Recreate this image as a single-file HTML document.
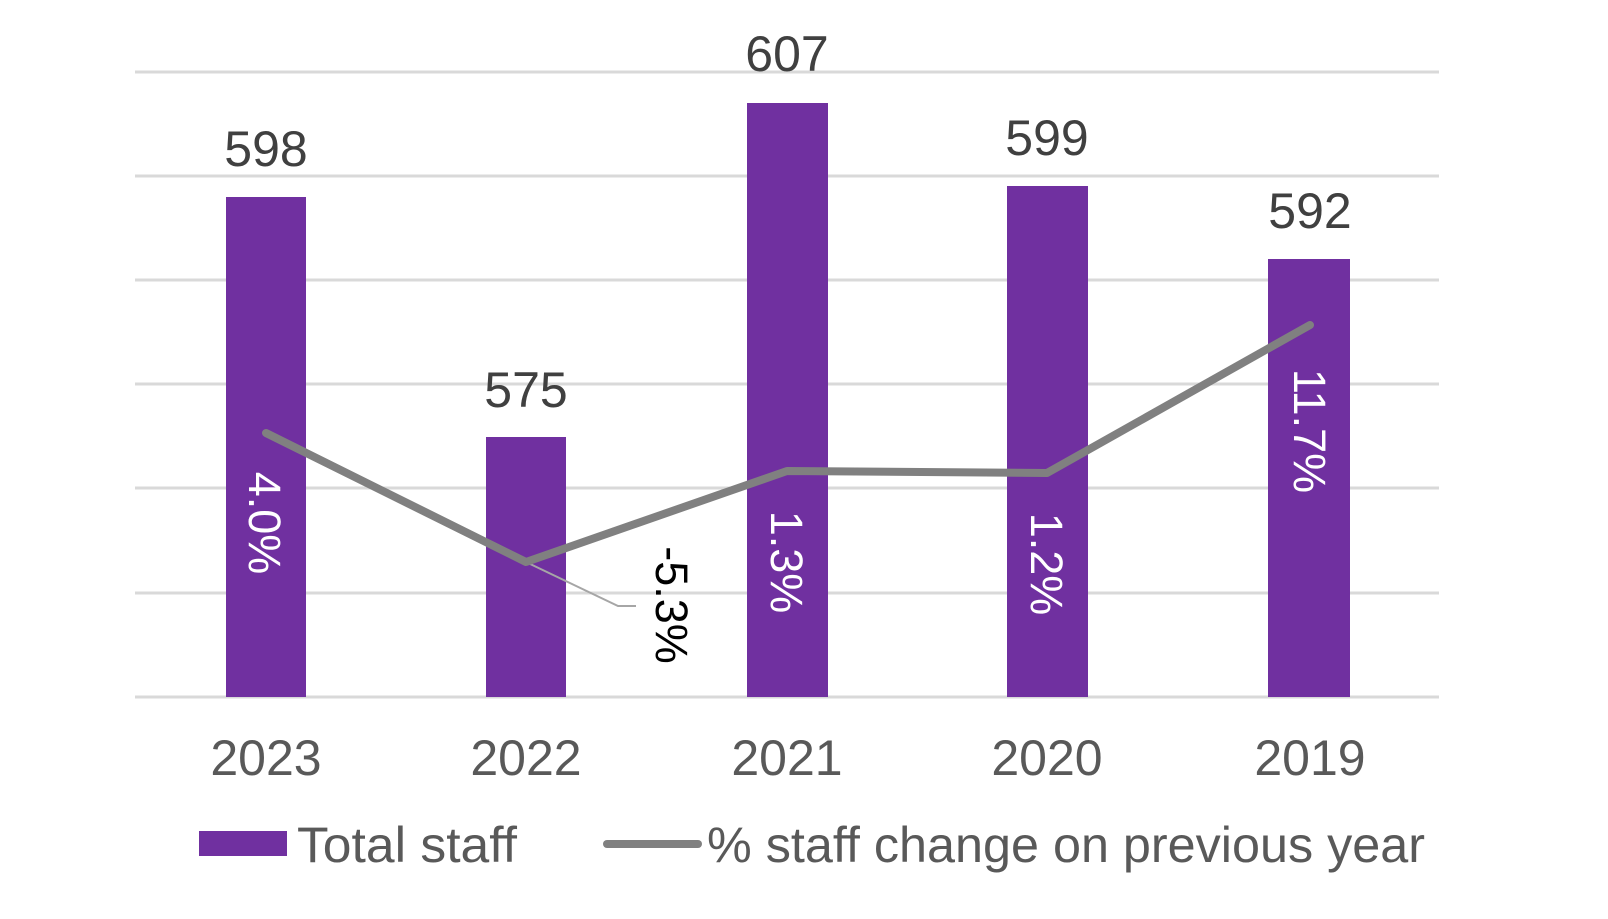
<!DOCTYPE html>
<html><head><meta charset="utf-8"><style>html,body{margin:0;padding:0;background:#fff}</style></head>
<body>
<svg width="1608" height="914" viewBox="0 0 1608 914" xmlns="http://www.w3.org/2000/svg" font-family="Liberation Sans, Arial, sans-serif">
<g stroke="#d9d9d9" stroke-width="3">
<line x1="135" y1="72" x2="1439" y2="72"/>
<line x1="135" y1="176" x2="1439" y2="176"/>
<line x1="135" y1="280" x2="1439" y2="280"/>
<line x1="135" y1="384" x2="1439" y2="384"/>
<line x1="135" y1="488" x2="1439" y2="488"/>
<line x1="135" y1="593" x2="1439" y2="593"/>
<line x1="135" y1="697" x2="1439" y2="697"/>
</g>
<g fill="#7030a0">
<rect x="226" y="197" width="80" height="500"/>
<rect x="486" y="437" width="80" height="260"/>
<rect x="747" y="103" width="81" height="594"/>
<rect x="1007" y="186" width="81" height="511"/>
<rect x="1268" y="259" width="82" height="438"/>
</g>
<polyline points="526,562 618,606 636,606" fill="none" stroke="#a6a6a6" stroke-width="2"/>
<polyline points="266,433 526,562 787,471 1047,473 1310,325" fill="none" stroke="#808080" stroke-width="8" stroke-linejoin="round" stroke-linecap="round"/>
<g fill="#404040" font-size="50" text-anchor="middle">
<text x="266" y="166">598</text>
<text x="526" y="407">575</text>
<text x="787" y="71">607</text>
<text x="1047" y="155">599</text>
<text x="1310" y="228">592</text>
</g>
<g fill="#595959" font-size="50" text-anchor="middle">
<text x="266" y="775">2023</text>
<text x="526" y="775">2022</text>
<text x="787" y="775">2021</text>
<text x="1047" y="775">2020</text>
<text x="1310" y="775">2019</text>
</g>
<g font-size="45" text-anchor="middle" fill="#fff">
<text transform="translate(265,523) rotate(90)" y="16">4.0%</text>
<text transform="translate(672,605) rotate(90)" y="16" fill="#000">-5.3%</text>
<text transform="translate(787,562) rotate(90)" y="16">1.3%</text>
<text transform="translate(1047,564) rotate(90)" y="16">1.2%</text>
<text transform="translate(1310,431) rotate(90)" y="16">11.7%</text>
</g>
<rect x="199" y="831" width="88" height="25" fill="#7030a0"/>
<text x="297" y="862" font-size="50" fill="#595959" textLength="220" lengthAdjust="spacingAndGlyphs">Total staff</text>
<line x1="607" y1="844" x2="698" y2="844" stroke="#808080" stroke-width="8" stroke-linecap="round"/>
<text x="707" y="862" font-size="50" fill="#595959" textLength="718" lengthAdjust="spacingAndGlyphs">% staff change on previous year</text>
</svg>
</body></html>
